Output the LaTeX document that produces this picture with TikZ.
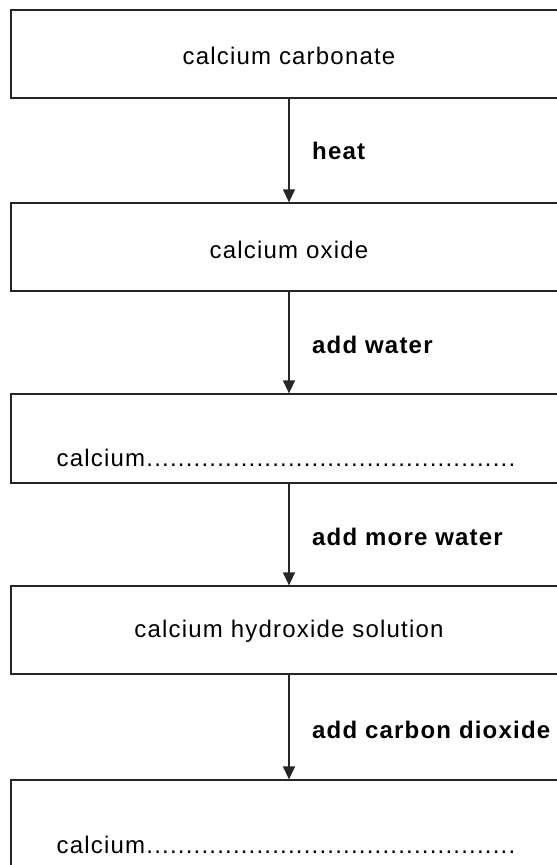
\documentclass[tikz,border=0pt]{standalone}
\usepackage{fontspec}
\setmainfont{Liberation Sans}
\newfontfamily\boxfont{Liberation Sans}[LetterSpace=5]
\newfontfamily\stepfont{Liberation Sans}[LetterSpace=5]
\usetikzlibrary{arrows.meta}
\tikzset{
  stagebox/.style={draw=black!85, line width=1.3pt, minimum width=549pt, minimum height=88pt, inner sep=0pt, anchor=center},
  stagetext/.style={inner sep=0pt, anchor=base, font=\boxfont\fontsize{24}{28}\selectfont},
  blanktext/.style={inner sep=0pt, anchor=base west, font=\boxfont\fontsize{24}{28}\selectfont},
  steplabel/.style={inner sep=0pt, anchor=base west, font=\stepfont\bfseries\fontsize{24}{28}\selectfont},
  flow/.style={draw=black!85, line width=1.3pt, -{Triangle[width=12pt,length=13pt]}}
}
\begin{document}
\begin{tikzpicture}[x=1pt,y=-1pt]
\useasboundingbox (0,0) rectangle (557,865);
\clip (0,0) rectangle (557,865);
% stage boxes (right sides run past the page edge)
\node[stagebox] (b1) at (285.5,54) {};
\node[stagebox] (b2) at (285.5,247) {};
\node[stagebox, minimum height=89pt] (b3) at (285.5,438.5) {};
\node[stagebox] (b4) at (285.5,630) {};
\node[stagebox] (b5) at (285.5,824) {};
% box texts
\node[stagetext] (t1) at (289,64) {calcium carbonate};
\node[stagetext] (t2) at (289,258) {calcium oxide};
\node[blanktext] (t3) at (56.5,466) {calcium...............................................};
\node[stagetext] (t4) at (289,637) {calcium hydroxide solution};
\node[blanktext] (t5) at (56.5,853) {calcium...............................................};
% arrows between the stages
\coordinate (ax) at (289,0);
\draw[flow] (b1.south -| ax) -- (b2.north -| ax);
\draw[flow] (b2.south -| ax) -- (b3.north -| ax);
\draw[flow] (b3.south -| ax) -- (b4.north -| ax);
\draw[flow] (b4.south -| ax) -- (b5.north -| ax);
% step labels
\node[steplabel] (l1) at (312,159) {heat};
\node[steplabel] (l2) at (312,353) {add water};
\node[steplabel] (l3) at (312,545) {add more water};
\node[steplabel] (l4) at (312,738) {add carbon dioxide};
\end{tikzpicture}
\end{document}
